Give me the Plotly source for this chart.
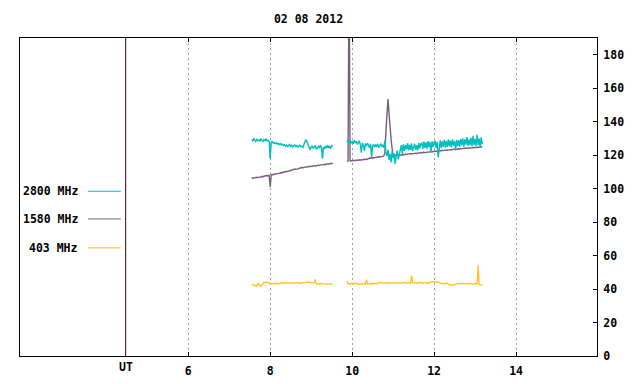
import numpy as np
import plotly.graph_objects as go

title_text = "02 08 2012"
x_tick_vals = [6, 8, 10, 12, 14]
x_tick_text = ["6", "8", "10", "12", "14"]
y_tick_vals = [0, 20, 40, 60, 80, 100, 120, 140, 160, 180]
ut_hour = 4.473
legend_names = ["2800 MHz", "1580 MHz", "403 MHz"]
colors = {"2800 MHz": "#00bfbf", "1580 MHz": "#7b5c80", "403 MHz": "#ffbf10"}

# sampling times (hours UT) of the two recording segments
seg1_start, seg2_start, step = 7.55, 9.875, 0.025
n1, n2 = 80, 133
t_seg1 = np.round(seg1_start + step * np.arange(n1), 4)
t_seg2 = np.round(seg2_start + step * np.arange(n2), 4)

f2800_seg1 = [
    129.4, 128.6, 129.8, 128.9, 128.2, 129.5, 128.7, 129.1, 128.3, 129.6, 128.8, 128.1, 129.3, 128.7, 129.9, 128.5, 128.9, 128.2,
    117.8,
    127.6, 128.1, 127.2, 127.5, 126.8, 127.4, 126.6, 127.0, 126.3, 126.9, 126.1, 126.6, 125.9,
    126.2, 125.4, 126.0, 125.1, 125.8, 126.4, 125.3, 125.9, 124.9, 125.6, 126.1, 125.2, 125.7, 124.8, 125.5, 126.0, 125.1, 125.4, 124.7,
    126.8, 128.3, 129.2, 127.6,
    125.4, 124.1, 123.3, 124.8, 125.6, 123.9, 124.6, 125.8, 123.5, 124.9, 125.3, 124.2, 126.0, 124.5, 117.9, 124.8, 123.7, 125.5,
    124.3, 125.9, 124.6, 125.2, 123.9, 125.7, 125.3,
]
f2800_seg2 = [
    127.8, 129.2, 126.9, 128.5, 127.3,
    128.1, 126.7, 129.0, 127.4, 128.3, 126.5, 127.9, 128.6,
    126.2, 121.5, 127.3, 125.8, 122.6, 126.9, 125.4, 127.1,
    125.9, 124.3, 126.8, 119.0, 125.6, 126.4, 124.8, 126.1,
    125.3, 126.7, 124.5, 125.9, 126.9, 125.0, 126.2, 124.4,
    128.8, 121.7, 119.4, 123.2, 117.1, 120.8, 115.6, 122.4, 118.3, 121.0, 114.8, 119.6, 122.7, 117.4, 120.9, 123.5,
    126.0, 120.8, 126.5, 122.6, 126.2, 123.4, 127.0, 122.9,
    126.3, 123.2, 127.1, 122.5, 124.9, 126.8, 123.1, 126.0, 122.8, 127.4, 123.9, 126.7,
    127.2, 123.8, 128.1, 124.3, 127.6, 123.9, 128.4, 124.7, 127.9, 121.6, 128.3, 124.8,
    127.5, 128.6, 124.2, 128.0, 118.6, 125.1, 128.9, 124.3, 128.2, 124.9, 129.1, 124.5,
    128.5, 124.9, 129.3, 125.2, 128.7, 124.6, 129.5, 125.7, 128.4, 122.9, 129.2, 125.4,
    129.0, 125.1, 129.8, 125.8, 130.1, 125.0, 129.4, 126.3, 130.8, 125.6, 129.4, 125.9,
    130.4, 125.3, 131.6, 126.0, 129.8, 125.6, 132.2, 126.1, 129.9, 124.6, 130.6, 126.4,
]

f1580_seg1 = [
    106.2, 106.5, 106.3, 106.6, 106.4, 106.8, 106.6, 106.9, 107.0, 106.8,
    107.3, 107.1, 107.5, 107.4, 107.8, 107.6, 108.0, 107.9, 101.0, 108.2,
    108.4, 108.3, 108.7, 108.6, 109.0, 108.9, 109.2, 109.1, 109.5, 109.4,
    109.8, 109.7, 110.1, 110.0, 110.4, 110.2, 110.6, 110.5, 110.9, 111.2,
    111.0, 111.4, 111.7, 111.5, 111.9, 111.8, 112.1, 112.4, 112.2, 112.6,
    112.5, 112.8, 112.7, 113.0, 112.9, 113.2, 113.1, 113.4, 113.2, 113.5,
    113.4, 113.7, 113.5, 113.9, 113.8, 114.0, 113.8, 114.2, 114.1, 114.4,
    114.2, 114.5, 114.3, 114.7, 114.6, 114.9, 114.7, 115.1, 114.9, 115.3,
]
f1580_seg2 = [
    116.3, 116.5, 240.0, 116.4, 116.8, 116.6, 116.9, 116.7, 117.0, 116.8,
    117.1, 116.9, 117.2, 117.0, 117.3, 117.1, 117.4, 117.6, 117.3, 117.7,
    117.5, 117.9, 118.3, 118.1, 118.5, 118.2, 118.6, 118.4, 118.8, 118.6,
    119.0, 118.8, 119.2, 119.0, 119.4, 119.3, 119.6,
    121.5, 134.5, 144.0, 153.5, 145.0, 134.0, 129.5, 124.0,
    119.8, 119.6, 120.0, 119.7, 120.1, 119.9, 120.2, 120.0, 120.3, 120.1,
    120.4, 120.2, 120.6, 120.4, 120.7, 120.5, 120.9, 120.7, 121.0, 120.8,
    121.1, 120.9, 121.2, 121.0, 121.3, 121.2, 121.5, 121.3, 121.6, 121.4,
    121.7, 121.5, 121.8, 121.6, 121.9, 121.8, 122.0, 121.9, 122.2, 122.0,
    122.4, 122.2, 122.5, 122.3, 122.6, 122.5, 122.7, 122.6, 122.9, 122.7,
    123.0, 122.8, 123.1, 122.9, 123.2, 123.1, 123.3, 123.2, 123.4, 123.3,
    123.6, 123.4, 123.7, 123.5, 123.8, 123.7, 124.0, 123.8, 124.1, 123.9,
    124.2, 124.0, 124.3, 124.1, 124.4, 124.2, 124.5, 124.3, 124.6, 124.4,
    124.7, 124.5, 124.8, 124.6, 124.9, 124.7, 125.0, 124.8,
]

f403_seg1 = [
    42.5, 42.4, 42.6, 42.3,
    41.8, 41.9,
    43.2, 43.1,
    42.0, 41.7, 42.2,
    43.6, 44.1, 43.9, 44.2, 43.8, 44.0, 43.7,
    43.1, 43.3, 43.0, 43.4, 43.2, 43.1, 43.5, 43.2, 43.3, 43.0,
    43.7, 43.5, 43.8, 43.6, 43.4, 43.7, 43.9, 43.5, 43.6, 43.8, 43.4, 43.7, 43.6, 43.5, 43.8, 43.6,
    43.9, 43.5, 43.7, 43.4, 43.6, 43.8, 43.5, 43.7, 43.6, 43.9,
    44.2, 44.0, 44.3, 44.1,
    43.8, 43.6, 43.5, 43.7,
    45.8,
    43.2, 43.0, 43.3, 42.8, 43.1, 43.4, 42.9, 43.2, 43.0, 43.3, 42.8, 43.2, 43.1, 42.9, 43.3, 43.0, 43.2,
]
f403_seg2 = [
    45.0, 43.0, 43.2, 42.9, 43.4, 43.1, 43.3, 43.6, 43.2, 43.5,
    43.0, 42.8, 43.1, 42.9, 43.2, 42.7, 43.0, 43.3, 42.9,
    45.6,
    43.0, 42.8, 43.2, 43.4, 42.9, 43.3, 43.1, 43.5, 43.2, 43.0,
    43.4, 43.7, 43.9, 43.6, 43.8, 43.5, 43.7, 43.9, 43.6, 43.4, 43.8, 43.5, 43.7, 43.6, 43.9,
    43.6, 43.4, 43.8, 43.5, 43.7, 43.9, 43.6, 43.4, 43.7, 43.8, 43.5, 43.6, 43.9, 43.7, 43.5, 43.8, 43.6, 43.4,
    48.1,
    43.7, 43.5, 43.8, 43.6, 43.4, 43.7, 43.9, 43.5, 43.6, 43.8, 43.4, 43.7, 43.5, 43.9, 43.6, 43.8, 43.5,
    44.2, 44.4, 44.1, 44.3, 44.5, 44.2, 44.4, 44.0, 44.3, 44.1,
    43.6, 43.3, 43.5, 43.2, 43.4, 43.1, 43.6, 43.3, 43.0,
    42.4, 42.2, 42.5, 42.3, 42.6, 42.4,
    43.0, 43.2, 43.4, 43.1, 42.9, 43.3, 43.0, 43.2, 43.5, 43.1, 42.8, 43.3, 43.2, 43.0, 43.4, 43.1,
    43.3, 42.9, 43.2, 43.5, 43.0, 43.3,
    54.2,
    42.6, 42.3, 42.5, 42.8,
]

series = {
    "403 MHz": (f403_seg1, f403_seg2),
    "1580 MHz": (f1580_seg1, f1580_seg2),
    "2800 MHz": (f2800_seg1, f2800_seg2),
}
line_widths = {"403 MHz": 1.2, "1580 MHz": 1.4, "2800 MHz": 1.4}

FONT = dict(family="DejaVu Sans Mono", size=11.5, color="black", weight="bold")

fig = go.Figure()
for name, (s1, s2) in series.items():
    x = list(t_seg1) + [None] + list(t_seg2)
    y = list(s1) + [None] + list(s2)
    fig.add_trace(go.Scatter(x=x, y=y, mode="lines", name=name,
                             line=dict(color=colors[name], width=line_widths[name]),
                             connectgaps=False, showlegend=False, hoverinfo="skip"))

# UT marker line
fig.add_shape(type="line", xref="x", yref="paper", x0=ut_hour, x1=ut_hour, y0=0, y1=1,
              line=dict(color="#3a0000", width=1))
fig.add_annotation(x=ut_hour, xref="x", y=-0.036, yref="paper", text="UT",
                   showarrow=False, font=FONT, xanchor="center", yanchor="middle")

# manual key
key_y = {"2800 MHz": 0.518, "1580 MHz": 0.431, "403 MHz": 0.340}
for name in legend_names:
    fig.add_annotation(x=0.1038, xref="paper", y=key_y[name], yref="paper", text=name,
                       showarrow=False, font=FONT, xanchor="right", yanchor="middle")
    fig.add_shape(type="line", xref="paper", yref="paper", x0=0.1176, x1=0.1747,
                  y0=key_y[name], y1=key_y[name], line=dict(color=colors[name], width=1))

fig.update_layout(
    width=640, height=384,
    margin=dict(l=20, r=43, t=38, b=28, autoexpand=False),
    paper_bgcolor="white", plot_bgcolor="white",
    font=FONT,
    hovermode=False,
    title=dict(text=title_text, x=0.5, xref="paper", xanchor="center",
               y=1 - 19 / 384, yref="container", yanchor="middle", font=FONT,
               automargin=False),
    xaxis=dict(range=[1.895, 15.975], tickvals=x_tick_vals, ticktext=x_tick_text,
               ticks="inside", ticklen=4, tickcolor="black", showline=True, linecolor="black",
               linewidth=1, mirror="ticks", showgrid=True, gridcolor="#a0a0a0", gridwidth=1,
               griddash="2px,3px", zeroline=False, tickfont=FONT, ticklabelstandoff=4,
               automargin=False),
    yaxis=dict(range=[0, 190], tickvals=y_tick_vals, side="right", ticks="inside", ticklen=4,
               tickcolor="black", showline=True, linecolor="black", linewidth=1, mirror=True,
               showgrid=False, zeroline=False, tickfont=FONT, ticklabelstandoff=3,
               automargin=False),
)

fig.write_html("out.html", config={"displayModeBar": False},
               post_script="document.body.style.margin='0';document.body.style.overflow='hidden';")
